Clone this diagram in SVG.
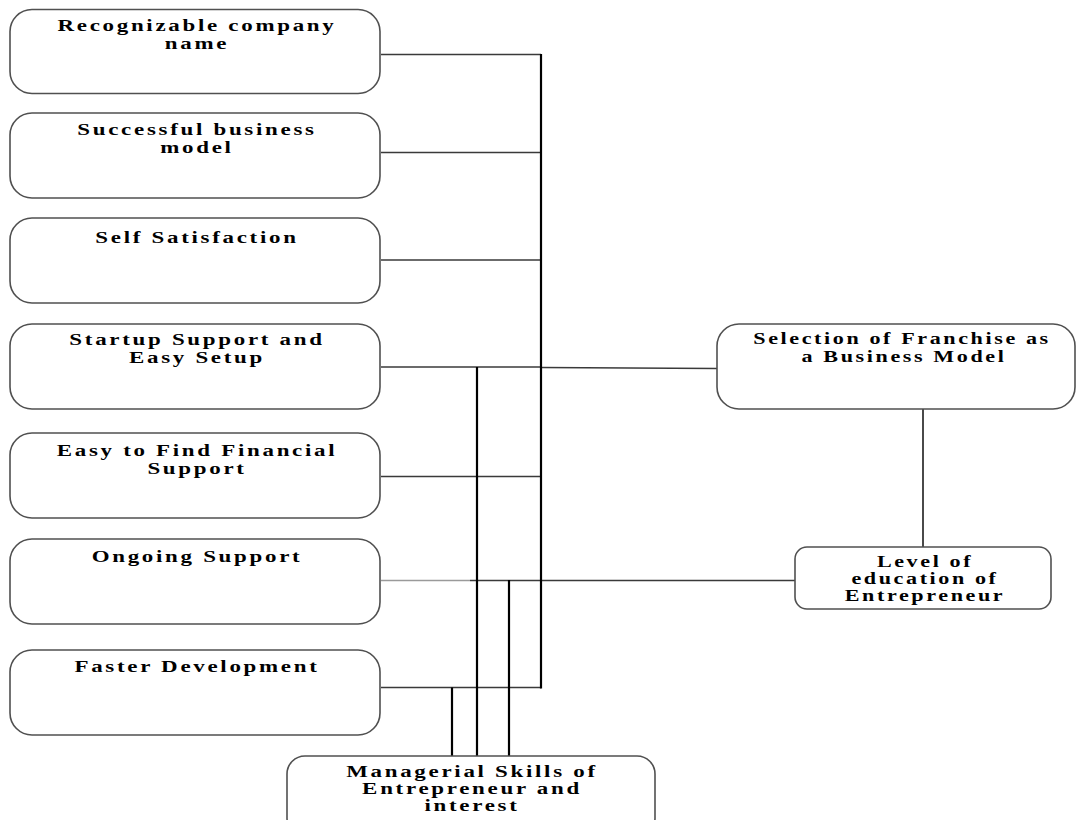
<svg xmlns="http://www.w3.org/2000/svg" width="1076" height="820" viewBox="0 0 1076 820">
<style>
.box{fill:#fff;stroke:#505050;stroke-width:1.6}
.t{font-family:"Liberation Serif","Times New Roman",serif;font-weight:bold;font-size:17px;letter-spacing:2px;text-anchor:middle;fill:#000}
.h{stroke:#3a3a3a;stroke-width:1.3;fill:none}
.v{stroke:#000;stroke-width:2.2;fill:none}
.g{stroke:#4a4a4a;stroke-width:2;fill:none}
</style>
<rect width="1076" height="820" fill="#fff"/>
<g id="connectors">
<line class="h" x1="381" y1="54.5" x2="541" y2="54.5"/>
<line class="h" x1="381" y1="152.5" x2="541" y2="152.5"/>
<line class="h" x1="381" y1="260" x2="541" y2="260"/>
<line class="h" x1="381" y1="367" x2="541" y2="367"/>
<line class="h" x1="541" y1="367.5" x2="717" y2="368.5"/>
<line class="h" x1="381" y1="476.5" x2="541" y2="476.5"/>
<line class="h" x1="381" y1="580.5" x2="470" y2="580.5" style="stroke:#9a9a9a"/>
<line class="h" x1="470" y1="580.5" x2="795" y2="580.5"/>
<line class="h" x1="381" y1="687.5" x2="541" y2="687.5"/>
<line class="v" x1="541" y1="54" x2="541" y2="688.5"/>
<line class="v" x1="477" y1="367" x2="477" y2="756"/>
<line class="v" x1="452" y1="687.5" x2="452" y2="756"/>
<line class="v" x1="509" y1="580" x2="509" y2="756"/>
<line class="g" x1="923" y1="409" x2="923" y2="547"/>
</g>
<g id="n1"><rect class="box" x="10" y="9.5" width="370" height="84" rx="22"/>
<text class="t" transform="translate(197,31) scale(1.35,1)">Recognizable company</text>
<text class="t" transform="translate(197,49) scale(1.35,1)">name</text></g>
<g id="n2"><rect class="box" x="10" y="113" width="370" height="85" rx="22"/>
<text class="t" transform="translate(197,135) scale(1.35,1)">Successful business</text>
<text class="t" transform="translate(197,153) scale(1.35,1)">model</text></g>
<g id="n3"><rect class="box" x="10" y="218" width="370" height="85" rx="22"/>
<text class="t" transform="translate(197,243) scale(1.35,1)">Self Satisfaction</text></g>
<g id="n4"><rect class="box" x="10" y="324" width="370" height="85" rx="22"/>
<text class="t" transform="translate(197,345) scale(1.35,1)">Startup Support and</text>
<text class="t" transform="translate(197,363) scale(1.35,1)">Easy Setup</text></g>
<g id="n5"><rect class="box" x="10" y="433" width="370" height="85" rx="22"/>
<text class="t" transform="translate(197,456) scale(1.35,1)">Easy to Find Financial</text>
<text class="t" transform="translate(197,474) scale(1.35,1)">Support</text></g>
<g id="n6"><rect class="box" x="10" y="539" width="370" height="85" rx="22"/>
<text class="t" transform="translate(197,562) scale(1.35,1)">Ongoing Support</text></g>
<g id="n7"><rect class="box" x="10" y="650" width="370" height="85" rx="22"/>
<text class="t" transform="translate(197,672) scale(1.35,1)">Faster Development</text></g>
<g id="n8"><rect class="box" x="287" y="756" width="368" height="80" rx="18"/>
<text class="t" transform="translate(472,777) scale(1.35,1)">Managerial Skills of</text>
<text class="t" transform="translate(472,794) scale(1.35,1)">Entrepreneur and</text>
<text class="t" transform="translate(472,811) scale(1.35,1)">interest</text></g>
<g id="n9"><rect class="box" x="717" y="324" width="358" height="85" rx="22"/>
<text class="t" transform="translate(902,344) scale(1.3,1)">Selection of Franchise as</text>
<text class="t" transform="translate(904,362) scale(1.3,1)">a Business Model</text></g>
<g id="n10"><rect class="box" x="795" y="547" width="256" height="62" rx="12"/>
<text class="t" transform="translate(925,567) scale(1.3,1)">Level of</text>
<text class="t" transform="translate(925,584) scale(1.3,1)">education of</text>
<text class="t" transform="translate(925,601) scale(1.3,1)">Entrepreneur</text></g>
</svg>
